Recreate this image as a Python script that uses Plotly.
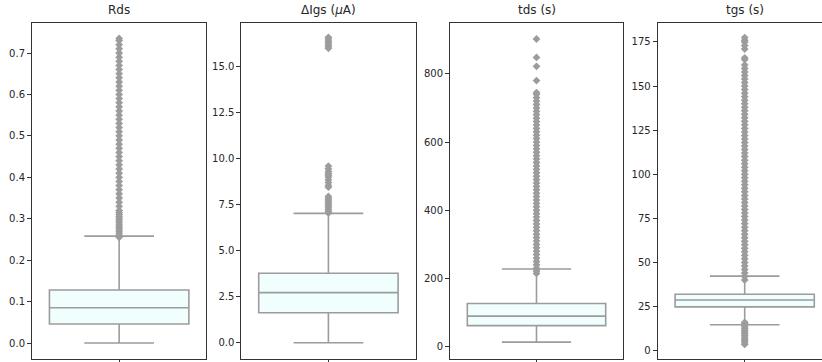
import plotly.graph_objects as go

W, H = 822, 362

titles = ["Rds", "ΔIgs (<i>μ</i>A)", "tds (s)", "tgs (s)"]

# box statistics: q1, median, q3, lower whisker, upper whisker
q1_vals = [0.046, 1.63, 62.0, 24.8]
median_vals = [0.085, 2.72, 89.6, 28.7]
q3_vals = [0.128, 3.77, 126.7, 31.9]
lowfence_vals = [0.0, 0.0, 13.5, 14.6]
upfence_vals = [0.258, 7.03, 228.0, 42.2]

rds_outliers = [0.255, 0.26, 0.265, 0.27, 0.275, 0.28, 0.285, 0.29, 0.295, 0.30, 0.305,
                0.31, 0.315, 0.32, 0.33, 0.34, 0.35, 0.36, 0.37, 0.38, 0.39, 0.40, 0.41,
                0.42, 0.43, 0.44, 0.45, 0.46, 0.47, 0.48, 0.49, 0.50, 0.51, 0.52, 0.53,
                0.54, 0.55, 0.56, 0.57, 0.58, 0.59, 0.60, 0.61, 0.62, 0.63, 0.64, 0.65,
                0.66, 0.67, 0.68, 0.69, 0.70, 0.71, 0.72, 0.73, 0.735]
igs_outliers = [7.05, 7.15, 7.25, 7.35, 7.45, 7.55, 7.65, 7.75, 7.85, 7.95, 8.45, 8.55,
                8.7, 8.85, 9.0, 9.1, 9.2, 9.3, 9.45, 9.6, 16.0, 16.1, 16.2, 16.3, 16.4,
                16.5, 16.6]
tds_outliers = [215, 222, 230, 240, 250, 260, 270, 280, 290, 300, 310, 320, 330, 340, 350,
                360, 370, 380, 390, 400, 410, 420, 430, 440, 450, 460, 470, 480, 490, 500,
                510, 520, 530, 540, 550, 560, 570, 580, 590, 600, 610, 620, 630, 640, 650,
                660, 670, 680, 690, 700, 710, 720, 730, 740, 745, 780, 822, 848, 902]
tgs_outliers = [3.5, 4.5, 5.5, 6.5, 7.5, 8.5, 9.5, 10.5, 11.5, 12.5, 13.5, 14.5, 15.5, 16.0,
                40.0, 42, 44, 46, 48, 50, 52, 54, 56, 58, 60, 62, 64, 66, 68, 70, 72, 74,
                76, 78, 80, 82, 84, 86, 88, 90, 92, 94, 96, 98, 100, 102, 104, 106, 108,
                110, 112, 114, 116, 118, 120, 122, 124, 126, 128, 130, 132, 134, 136, 138,
                140, 142, 144, 146, 148, 150, 152, 154, 156, 158, 160, 162, 165, 166,
                171, 173, 175, 176, 177.5]
outliers = [rds_outliers, igs_outliers, tds_outliers, tgs_outliers]

y_ranges = [[-0.0374, 0.7717], [-0.86, 17.36], [-34.5, 948], [-4.5, 185.6]]
y_tickvals = [[0.0, 0.1, 0.2, 0.3, 0.4, 0.5, 0.6, 0.7],
              [0.0, 2.5, 5.0, 7.5, 10.0, 12.5, 15.0],
              [0, 200, 400, 600, 800],
              [0, 25, 50, 75, 100, 125, 150, 175]]
y_ticktext = [["0.0", "0.1", "0.2", "0.3", "0.4", "0.5", "0.6", "0.7"],
              ["0.0", "2.5", "5.0", "7.5", "10.0", "12.5", "15.0"],
              ["0", "200", "400", "600", "800"],
              ["0", "25", "50", "75", "100", "125", "150", "175"]]

# panel pixel edges (left, right)
panels_px = [(32, 206.3), (241.3, 415.5), (450, 623), (657.7, 831.7)]
top_px, bottom_px = 23.3, 358.5

line_col = "#9c9c9c"
fill_col = "#f0fefe"
spine_col = "#333333"
font = "DejaVu Sans"

fig = go.Figure()
layout = dict(
    width=W, height=H, margin=dict(l=0, r=0, t=0, b=0),
    paper_bgcolor="white", plot_bgcolor="white", showlegend=False,
    font=dict(family=font, size=10, color="#262626"),
)
annotations = []
ydom = [1 - bottom_px / H, 1 - top_px / H]
for i in range(4):
    xa = "x" if i == 0 else f"x{i+1}"
    ya = "y" if i == 0 else f"y{i+1}"
    left, right = panels_px[i]
    pw = right - left
    dom_right = min(right, W) / W
    xmax = -0.5 + (min(right, W) - left) / pw
    fig.add_trace(go.Box(
        x=[0], q1=[q1_vals[i]], median=[median_vals[i]], q3=[q3_vals[i]],
        lowerfence=[lowfence_vals[i]], upperfence=[upfence_vals[i]],
        width=0.8, whiskerwidth=0.5, fillcolor=fill_col,
        line=dict(color=line_col, width=1.6), boxpoints=False,
        xaxis=xa, yaxis=ya, hoverinfo="skip",
    ))
    fig.add_trace(go.Scatter(
        x=[0] * len(outliers[i]), y=outliers[i], mode="markers",
        marker=dict(symbol="diamond", size=6, color=line_col, line=dict(width=0)),
        xaxis=xa, yaxis=ya, hoverinfo="skip",
    ))
    key = "" if i == 0 else str(i + 1)
    layout["xaxis" + key] = dict(
        domain=[left / W, dom_right], range=[-0.5, xmax], anchor=ya,
        tickvals=[0], ticktext=[""], ticks="outside", ticklen=4, tickcolor=spine_col,
        showline=True, linecolor=spine_col, linewidth=1, mirror=True,
        showgrid=False, zeroline=False, fixedrange=True,
    )
    layout["yaxis" + key] = dict(
        domain=ydom, range=y_ranges[i], anchor=xa,
        tickvals=y_tickvals[i], ticktext=y_ticktext[i], ticks="outside", ticklen=4,
        tickcolor=spine_col, showline=True, linecolor=spine_col, linewidth=1,
        mirror=(i < 3), showgrid=False, zeroline=False, fixedrange=True,
        tickfont=dict(size=10, color="#262626"),
    )
    annotations.append(dict(
        text=titles[i], xref="paper", yref="paper",
        x=(left + pw / 2) / W, y=1 - (top_px - 4) / H,
        xanchor="center", yanchor="bottom", showarrow=False,
        font=dict(family=font, size=12, color="#262626"),
    ))
layout["annotations"] = annotations
fig.update_layout(**layout)
fig.write_html(
    "out.html",
    config={"displayModeBar": False},
    post_script="document.body.style.margin='0';document.body.style.overflow='hidden';",
)
